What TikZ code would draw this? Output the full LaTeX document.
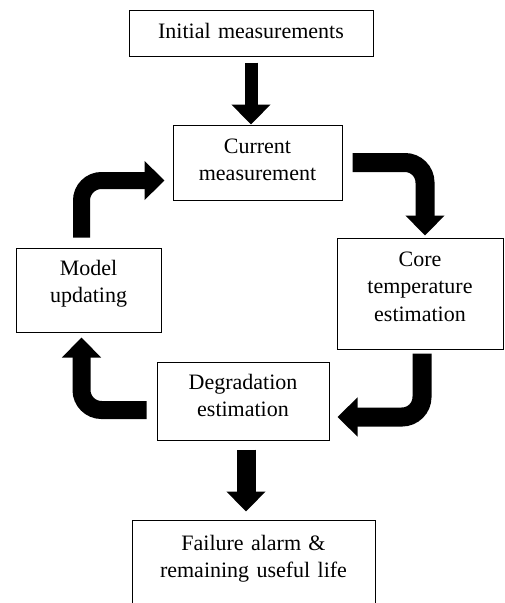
\documentclass[tikz,border=0pt]{standalone}
\usepackage{fontspec}
\setmainfont{Liberation Serif}
\usetikzlibrary{arrows.meta}

\begin{document}
\begin{tikzpicture}[x=1pt, y=-1pt,
	stage/.style={draw, line width=1pt, inner sep=0pt, align=center, font=\fontsize{22}{27.5}\selectfont},
	flow/.style={line width=#1, rounded corners=20pt, -{Triangle[length=20pt 0, width=38pt 0]}},
	flow/.default=19pt]
\useasboundingbox (0,0) rectangle (504,603);
\clip (0,0) rectangle (504,603);
\node (init) [stage, text width=244pt, text height=28pt, text depth=18pt] at (251,33) {Initial measurements};
\node (curr) [stage, text width=169pt, text height=28pt, text depth=47pt] at (257.5,162.5) {Current\\measurement};
\node (core) [stage, text width=166pt, text height=28pt, text depth=83pt] at (420,293.5) {Core\\temperature\\estimation};
\node (model) [stage, text width=145pt, text height=27pt, text depth=57pt] at (88.5,290) {Model\\updating};
\node (degr) [stage, text width=172pt, text height=27pt, text depth=51pt] at (243,401) {Degradation\\estimation};
\node (fail) [stage, text width=243pt, text height=30pt, text depth=80pt] at (253.5,575) {Failure alarm \&\\remaining useful life};
\draw[flow=13pt, shorten <=6pt] (init.south) -- (init.south |- curr.north);
\draw[flow, shorten <=10pt, shorten >=2pt] (curr.east) -| ([xshift=5pt]core.north);
\draw[flow, shorten <=4pt] ([xshift=2pt]core.south) |- ([xshift=8pt, yshift=-16pt]degr.east);
\draw[flow=18pt, shorten <=10pt] ([yshift=-9pt]degr.west) -| ([xshift=-7pt, yshift=-5pt]model.south);
\draw[flow=17pt, shorten <=10pt] ([xshift=-7pt]model.north) |- ([xshift=-8pt, yshift=-18pt]curr.west);
\draw[flow, shorten <=9pt, shorten >=8pt] ([xshift=3pt]degr.south) -- ([xshift=3pt]degr.south |- fail.north);
\end{tikzpicture}
\end{document}
